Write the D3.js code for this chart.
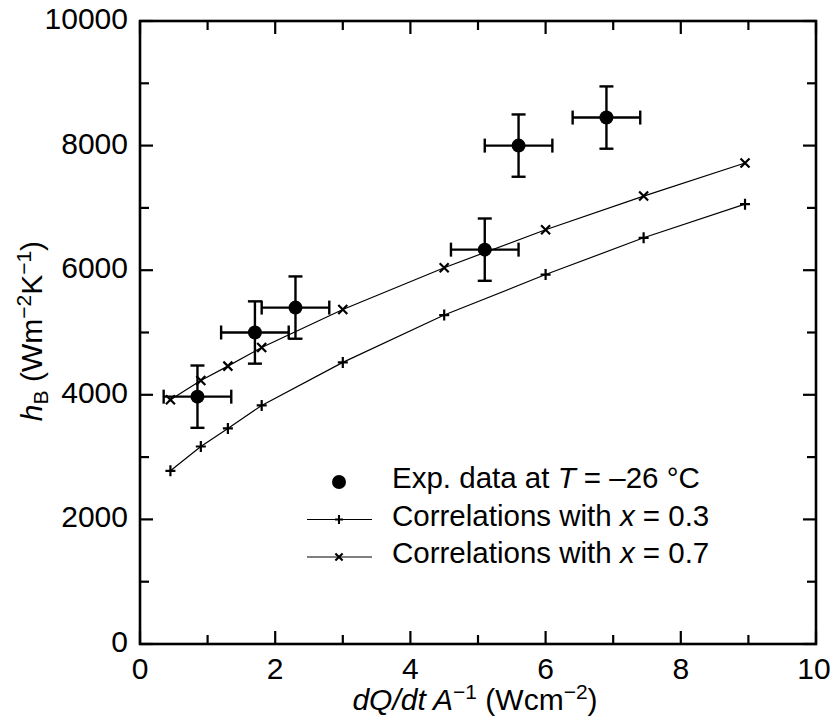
<!DOCTYPE html>
<html>
<head>
<meta charset="utf-8">
<script src="https://cdn.jsdelivr.net/npm/d3@7/dist/d3.min.js"></script>
<style>
  html, body { margin: 0; padding: 0; background: #fff; }
  svg { display: block; font-family: "Liberation Sans", Arial, Helvetica, sans-serif; }
</style>
</head>
<body>
<div id="chart"></div>
<script>
/* experimental points (with error bars) */
const expX    = [0.85, 1.7, 2.3, 5.1, 5.6, 6.9];
const expY    = [3970, 5000, 5400, 6330, 8000, 8450];
const expXErr = [0.5, 0.5, 0.5, 0.5, 0.5, 0.5];
const expYErr = [500, 500, 500, 500, 500, 500];

/* correlations */
const corrX  = [0.45, 0.9, 1.3, 1.8, 3.0, 4.5, 6.0, 7.45, 8.95];
const corr03 = [2780, 3170, 3460, 3830, 4520, 5280, 5930, 6520, 7060];
const corr07 = [3920, 4230, 4460, 4760, 5370, 6040, 6650, 7190, 7720];

const xMajor = [0, 2, 4, 6, 8, 10];
const xMinor = [1, 3, 5, 7, 9];
const yMajor = [0, 2000, 4000, 6000, 8000, 10000];
const yMinor = [1000, 3000, 5000, 7000, 9000];

const W = 831, H = 718;
const L = 140, R = 816, T = 21, B = 644;

const x = d3.scaleLinear().domain([0, 10]).range([L, R]);
const y = d3.scaleLinear().domain([0, 10000]).range([B, T]);

const svg = d3.select('#chart').append('svg').attr('width', W).attr('height', H);

/* --- frame + ticks (all four sides, inward) --- */
const MAJ = 13, MIN = 9;
const ticks = svg.append('g').attr('stroke', '#000').attr('stroke-width', 2.2);
function xt(v, len) {
  ticks.append('line').attr('x1', x(v)).attr('x2', x(v)).attr('y1', B).attr('y2', B - len);
  ticks.append('line').attr('x1', x(v)).attr('x2', x(v)).attr('y1', T).attr('y2', T + len);
}
function yt(v, len) {
  ticks.append('line').attr('y1', y(v)).attr('y2', y(v)).attr('x1', L).attr('x2', L + len);
  ticks.append('line').attr('y1', y(v)).attr('y2', y(v)).attr('x1', R).attr('x2', R - len);
}
xMajor.forEach(function (v) { xt(v, MAJ); });
xMinor.forEach(function (v) { xt(v, MIN); });
yMajor.forEach(function (v) { yt(v, MAJ); });
yMinor.forEach(function (v) { yt(v, MIN); });
svg.append('rect').attr('x', L).attr('y', T).attr('width', R - L).attr('height', B - T)
  .attr('fill', 'none').attr('stroke', '#000').attr('stroke-width', 2.6);

/* tick labels */
svg.append('g').selectAll('text').data(xMajor).join('text')
  .attr('x', function (d) { return x(d); }).attr('y', B + 35)
  .attr('dx', function (d) { return d === 10 ? -2 : 0; })
  .attr('text-anchor', 'middle').attr('font-size', 30)
  .text(function (d) { return d; });
svg.append('g').selectAll('text').data(yMajor).join('text')
  .attr('x', L - 12).attr('y', function (d) { return y(d) + 8; })
  .attr('text-anchor', 'end').attr('font-size', 30)
  .text(function (d) { return d; });

/* --- correlation lines --- */
const line = d3.line().x(function (d) { return x(d[0]); }).y(function (d) { return y(d[1]); });
const s03 = corrX.map(function (v, i) { return [v, corr03[i]]; });
const s07 = corrX.map(function (v, i) { return [v, corr07[i]]; });

const PLUS = 'M-5,0H5M0,-5.5V5.5';
const CROSS = 'M-4.5,-4.5L4.5,4.5M-4.5,4.5L4.5,-4.5';

[[s03, PLUS], [s07, CROSS]].forEach(function (s) {
  svg.append('path').attr('d', line(s[0])).attr('fill', 'none')
    .attr('stroke', '#000').attr('stroke-width', 1.2);
  svg.append('g').selectAll('path').data(s[0]).join('path')
    .attr('transform', function (d) { return 'translate(' + x(d[0]) + ',' + y(d[1]) + ')'; })
    .attr('d', s[1]).attr('stroke', '#000').attr('stroke-width', 2.2).attr('fill', 'none');
});

/* --- experimental points with error bars --- */
const expData = expX.map(function (v, i) {
  return { x: v, y: expY[i], dx: expXErr[i], dy: expYErr[i] };
});
const CAP = 7;
const eb = svg.append('g').attr('stroke', '#000').attr('stroke-width', 2.4);
expData.forEach(function (d) {
  const cx = x(d.x), cy = y(d.y);
  const x0 = x(d.x - d.dx), x1 = x(d.x + d.dx);
  const y0 = y(d.y - d.dy), y1 = y(d.y + d.dy);
  eb.append('line').attr('x1', x0).attr('x2', x1).attr('y1', cy).attr('y2', cy);
  eb.append('line').attr('x1', x0).attr('x2', x0).attr('y1', cy - CAP).attr('y2', cy + CAP);
  eb.append('line').attr('x1', x1).attr('x2', x1).attr('y1', cy - CAP).attr('y2', cy + CAP);
  eb.append('line').attr('x1', cx).attr('x2', cx).attr('y1', y0).attr('y2', y1);
  eb.append('line').attr('x1', cx - CAP).attr('x2', cx + CAP).attr('y1', y0).attr('y2', y0);
  eb.append('line').attr('x1', cx - CAP).attr('x2', cx + CAP).attr('y1', y1).attr('y2', y1);
});
svg.append('g').selectAll('circle').data(expData).join('circle')
  .attr('cx', function (d) { return x(d.x); }).attr('cy', function (d) { return y(d.y); })
  .attr('r', 7).attr('fill', '#000');

/* --- legend --- */
const lg = svg.append('g').attr('font-size', 29.5);
const LX = 392, LY = 488, LDY = 37.5;
lg.append('circle').attr('cx', 339).attr('cy', LY - 6).attr('r', 7).attr('fill', '#000');
[[PLUS, 1], [CROSS, 2]].forEach(function (m) {
  const ly = LY + m[1] * LDY - 6;
  lg.append('line').attr('x1', 307).attr('x2', 372).attr('y1', ly).attr('y2', ly)
    .attr('stroke', '#000').attr('stroke-width', 1.2);
  lg.append('path').attr('d', m[0]).attr('transform', 'translate(339,' + ly + ') scale(0.8)')
    .attr('stroke', '#000').attr('stroke-width', 2.6).attr('fill', 'none');
});
let t = lg.append('text').attr('x', LX).attr('y', LY);
t.append('tspan').text('Exp. data at ');
t.append('tspan').attr('font-style', 'italic').text('T');
t.append('tspan').text(' = \u201326 \u00b0C');
['0.3', '0.7'].forEach(function (v, i) {
  const tt = lg.append('text').attr('x', LX).attr('y', LY + (i + 1) * LDY);
  tt.append('tspan').text('Correlations with ');
  tt.append('tspan').attr('font-style', 'italic').text('x');
  tt.append('tspan').text(' = ' + v);
});

/* --- axis titles --- */
const xl = svg.append('text').attr('x', 475).attr('y', 710)
  .attr('text-anchor', 'middle').attr('font-size', 30);
xl.append('tspan').attr('font-style', 'italic').text('dQ/dt A');
xl.append('tspan').attr('font-size', 21).attr('dy', -11).text('\u22121');
xl.append('tspan').attr('dy', 11).text(' (Wcm');
xl.append('tspan').attr('font-size', 21).attr('dy', -11).text('\u22122');
xl.append('tspan').attr('dy', 11).text(')');

const yl = svg.append('text').attr('transform', 'translate(42,331) rotate(-90)')
  .attr('text-anchor', 'middle').attr('font-size', 30);
yl.append('tspan').attr('font-style', 'italic').text('h');
yl.append('tspan').attr('font-size', 21).attr('dy', 6).text('B');
yl.append('tspan').attr('dy', -6).text(' (Wm');
yl.append('tspan').attr('font-size', 21).attr('dy', -11).text('\u22122');
yl.append('tspan').attr('dy', 11).text('K');
yl.append('tspan').attr('font-size', 21).attr('dy', -11).text('\u22121');
yl.append('tspan').attr('dy', 11).text(')');
</script>
</body>
</html>
